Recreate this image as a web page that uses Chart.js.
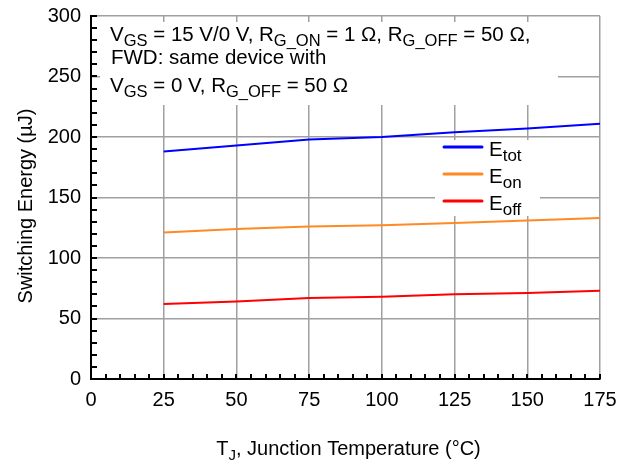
<!DOCTYPE html>
<html>
<head>
<meta charset="utf-8">
<script src="https://cdn.jsdelivr.net/npm/chart.js@4"></script>
<style>
  html, body { margin: 0; padding: 0; background: #fff; }
  #wrap { width: 626px; height: 469px; }
</style>
</head>
<body>
<div id="wrap"><canvas id="chart" width="626" height="469"></canvas></div>
<script>
// data
const temps = [25, 50, 75, 100, 125, 150, 175];
const eTot = [188, 193, 198, 200, 204, 207, 211];
const eOn = [121, 124, 126, 127, 129, 131, 133];
const eOff = [62, 64, 67, 68, 70, 71, 73];
const xTicks = [0, 25, 50, 75, 100, 125, 150, 175];
const yTicks = [0, 50, 100, 150, 200, 250, 300];

const FONT = '"Liberation Sans", Arial, Helvetica, sans-serif';
const pts = arr => temps.map((t, i) => ({ x: t, y: arr[i] }));

// draw a row of text pieces, some as subscripts
function drawRich(ctx, x, y, parts, size, subSize) {
    ctx.textBaseline = 'alphabetic';
    ctx.textAlign = 'left';
    let cx = x;
    parts.forEach(p => {
        ctx.font = (p.sub ? subSize : size) + 'px ' + FONT;
        ctx.fillText(p.t, cx, p.sub ? y + 5 : y);
        cx += ctx.measureText(p.t).width;
    });
    return cx - x;
}
function richWidth(ctx, parts, size, subSize) {
    let w = 0;
    parts.forEach(p => {
        ctx.font = (p.sub ? subSize : size) + 'px ' + FONT;
        w += ctx.measureText(p.t).width;
    });
    return w;
}

const legendItems = [
    { sub: 'tot', color: '#0000ff', y: 147 },
    { sub: 'on', color: '#ff8a24', y: 174 },
    { sub: 'off', color: '#ff0000', y: 201 }
];

const decor = {
    id: 'decor',
    afterDatasetsDraw(chart) {
        const ctx = chart.ctx;
        const xs = chart.scales.x, ys = chart.scales.y;
        ctx.save();

        // minor ticks on the spines, pointing inwards
        ctx.strokeStyle = '#000';
        ctx.lineWidth = 2;
        ctx.beginPath();
        for (let v = 0; v <= 300; v += 10) {
            const py = Math.round(ys.getPixelForValue(v));
            ctx.moveTo(xs.left, py);
            ctx.lineTo(xs.left + 6, py);
        }
        for (let v = 0; v <= 175; v += 5) {
            const px = Math.round(xs.getPixelForValue(v));
            ctx.moveTo(px, ys.bottom);
            ctx.lineTo(px, ys.bottom - 5);
        }
        ctx.stroke();

        // annotation box
        ctx.fillStyle = '#fff';
        ctx.fillRect(100, 22, 458, 83);
        ctx.fillStyle = '#000';
        drawRich(ctx, 110, 41, [
            { t: 'V' }, { t: 'GS', sub: true }, { t: ' = 15 V/0 V, R' }, { t: 'G_ON', sub: true },
            { t: ' = 1 Ω, R' }, { t: 'G_OFF', sub: true }, { t: ' = 50 Ω,' }
        ], 20.5, 16.5);
        drawRich(ctx, 111, 64, [{ t: 'FWD: same device with' }], 20.5, 16.5);
        drawRich(ctx, 110, 92, [
            { t: 'V' }, { t: 'GS', sub: true }, { t: ' = 0 V, R' }, { t: 'G_OFF', sub: true }, { t: ' = 50 Ω' }
        ], 20.5, 16.5);

        // legend box
        ctx.fillStyle = '#fff';
        ctx.fillRect(435, 140, 105, 76);
        legendItems.forEach(it => {
            ctx.strokeStyle = it.color;
            ctx.lineWidth = 3;
            ctx.lineCap = 'round';
            ctx.beginPath();
            ctx.moveTo(444, it.y);
            ctx.lineTo(482, it.y);
            ctx.stroke();
            ctx.fillStyle = '#000';
            drawRich(ctx, 489, it.y + 9, [{ t: 'E' }, { t: it.sub, sub: true }], 20.5, 17);
        });

        // axis titles
        ctx.fillStyle = '#000';
        const xt = [{ t: 'T' }, { t: 'J', sub: true }, { t: ', Junction Temperature (°C)' }];
        const w = richWidth(ctx, xt, 20, 15);
        drawRich(ctx, (xs.left + xs.right) / 2 - w / 2 + 3, 455, xt, 20, 15);

        ctx.translate(32, 206);
        ctx.rotate(-Math.PI / 2);
        ctx.font = '20px ' + FONT;
        ctx.textAlign = 'center';
        ctx.textBaseline = 'alphabetic';
        ctx.fillText('Switching Energy (µJ)', 0, 0);
        ctx.restore();
    }
};

const ctx = document.getElementById('chart');
new Chart(ctx, {
    type: 'line',
    data: {
        datasets: [
            { label: 'Etot', data: pts(eTot), borderColor: '#0000ff', borderWidth: 2, pointRadius: 0, tension: 0 },
            { label: 'Eon', data: pts(eOn), borderColor: '#ff8a24', borderWidth: 2, pointRadius: 0, tension: 0 },
            { label: 'Eoff', data: pts(eOff), borderColor: '#ff0000', borderWidth: 2, pointRadius: 0, tension: 0 }
        ]
    },
    options: {
        responsive: false,
        animation: false,
        events: [],
        layout: { padding: { top: 16, right: 26, left: 0, bottom: 0 } },
        plugins: { legend: { display: false }, tooltip: { enabled: false } },
        scales: {
            x: {
                type: 'linear',
                min: 0,
                max: 175,
                afterBuildTicks: s => { s.ticks = xTicks.map(v => ({ value: v })); },
                afterFit: s => { s.height = 90; s.paddingLeft = 0; s.paddingRight = 0; },
                grid: { color: '#a0a0a0', lineWidth: 1.5, drawTicks: false },
                border: { color: '#000', width: 2 },
                ticks: { color: '#000', padding: 9, font: { family: FONT, size: 20 }, maxRotation: 0 }
            },
            y: {
                min: 0,
                max: 300,
                afterBuildTicks: s => { s.ticks = yTicks.map(v => ({ value: v })); },
                afterFit: s => { s.width = 91; s.paddingTop = 0; s.paddingBottom = 0; },
                grid: { color: '#a0a0a0', lineWidth: 1.5, drawTicks: false },
                border: { color: '#000', width: 2 },
                ticks: { color: '#000', padding: 10, font: { family: FONT, size: 20 } }
            }
        }
    },
    plugins: [decor]
});
</script>
</body>
</html>
